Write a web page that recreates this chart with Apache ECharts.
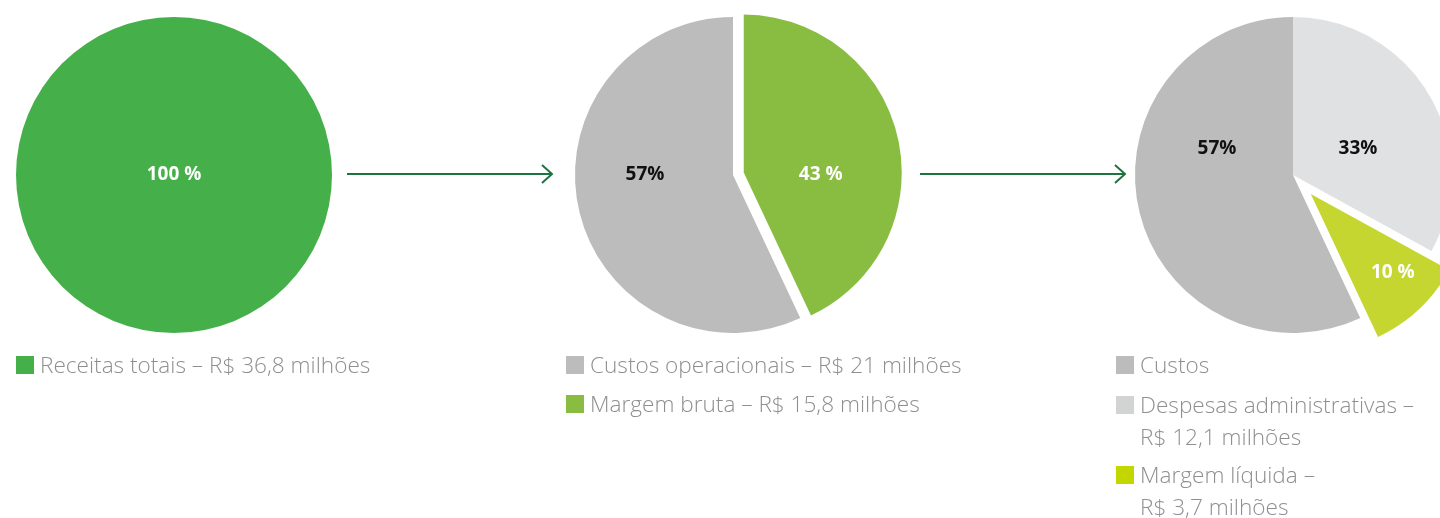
<!DOCTYPE html>
<html lang="pt">
<head>
    <meta charset="utf-8">
    <style>
        html, body { margin: 0; padding: 0; background: #fff; }
        #main { width: 1440px; height: 518px; }
    </style>
</head>
<body>
<div id="main"></div>
<script src="https://cdn.jsdelivr.net/npm/echarts@6/dist/echarts.min.js"></script>
<script>
    // valores (%) de cada pizza
    var receitasNames = ['Receitas totais – R$ 36,8 milhões'];
    var receitasValues = [100];
    var receitasLabels = ['100 %'];

    var brutaNames = ['Margem bruta – R$ 15,8 milhões', 'Custos operacionais – R$ 21 milhões'];
    var brutaValues = [43, 57];
    var brutaLabels = ['43 %', '57%'];

    var liquidaNames = ['Despesas administrativas –\nR$ 12,1 milhões', 'Margem líquida –\nR$ 3,7 milhões', 'Custos'];
    var liquidaValues = [33, 10, 57];
    var liquidaLabels = ['33%', '10 %', '57%'];

    // ordem da legenda (de cima para baixo)
    var brutaLegend = [1, 0];
    var liquidaLegend = [2, 0, 1];

    var green = '#45b04a', gray = '#bbbcbb', green2 = '#88bd41', light = '#e0e1e2', lime = '#c5d631';
    var textGray = '#8f8f8f';
    var arrowColor = '#1d7440';

    var R = 158;
    var chart = echarts.init(document.getElementById('main'));

    function pieSeries(names, values, labels, colors, center, offset, selIdx, labelOffsets, labelColors) {
        return {
            type: 'pie',
            radius: R,
            center: center,
            startAngle: 90,
            clockwise: true,
            silent: true,
            animation: false,
            selectedMode: 'multiple',
            selectedOffset: offset,
            label: {
                position: 'center',
                fontFamily: 'Open Sans',
                fontWeight: 'bold',
                fontSize: 19
            },
            labelLine: { show: false },
            data: values.map(function (v, i) {
                var lbl = {
                    formatter: labels[i],
                    offset: labelOffsets[i],
                    color: labelColors[i],
                    fontFamily: 'Open Sans',
                    fontWeight: 'bold',
                    fontSize: 19
                };
                return {
                    name: names[i],
                    value: v,
                    selected: i === selIdx,
                    itemStyle: { color: colors[i] },
                    label: lbl,
                    select: { itemStyle: { color: colors[i] }, label: lbl }
                };
            })
        };
    }

    function arrow(x1, x2, y) {
        return [
            { type: 'line', shape: { x1: x1, y1: y, x2: x2, y2: y }, style: { stroke: arrowColor, lineWidth: 2 } },
            { type: 'polyline', shape: { points: [[x2 - 10, y - 9], [x2, y], [x2 - 10, y + 9]] }, style: { stroke: arrowColor, lineWidth: 2, fill: null } }
        ];
    }

    function legend(x, names, colors, order, ys) {
        var els = [];
        order.forEach(function (idx, k) {
            els.push({ type: 'rect', shape: { x: x, y: ys[k] - 9, width: 18, height: 18 }, style: { fill: colors[idx] } });
            els.push({
                type: 'text', x: x + 24, y: ys[k] - 14,
                style: {
                    text: names[idx], fill: textGray, fontFamily: 'Open Sans', fontSize: 22.6, fontWeight: 300,
                    lineHeight: 32, verticalAlign: 'top', align: 'left'
                }
            });
        });
        return els;
    }

    var graphics = []
        .concat(arrow(347, 552, 174))
        .concat(arrow(920, 1125, 174))
        .concat(legend(16, receitasNames, [green], [0], [365]))
        .concat(legend(566, brutaNames, [green2, gray], brutaLegend, [365, 404]))
        .concat(legend(1116, liquidaNames, ['#d2d3d3', '#c4d600', gray], liquidaLegend, [365, 405, 475]));

    var option = {
        backgroundColor: '#fff',
        graphic: graphics,
        series: [
            pieSeries(receitasNames, receitasValues, receitasLabels, [green], [174, 175], 0, -1,
                [[0, 0]], ['#fff']),
            pieSeries(brutaNames, brutaValues, brutaLabels, [green2, gray], [733, 175], 11, 0,
                [[77, 2], [-88, 0]], ['#fff', '#111']),
            pieSeries(liquidaNames, liquidaValues, liquidaLabels, [light, lime, gray], [1293, 175], 26, 1,
                [[65, -26], [82, 79], [-76, -26]], ['#111', '#fff', '#111'])
        ]
    };
    chart.setOption(option);
</script>
</body>
</html>
